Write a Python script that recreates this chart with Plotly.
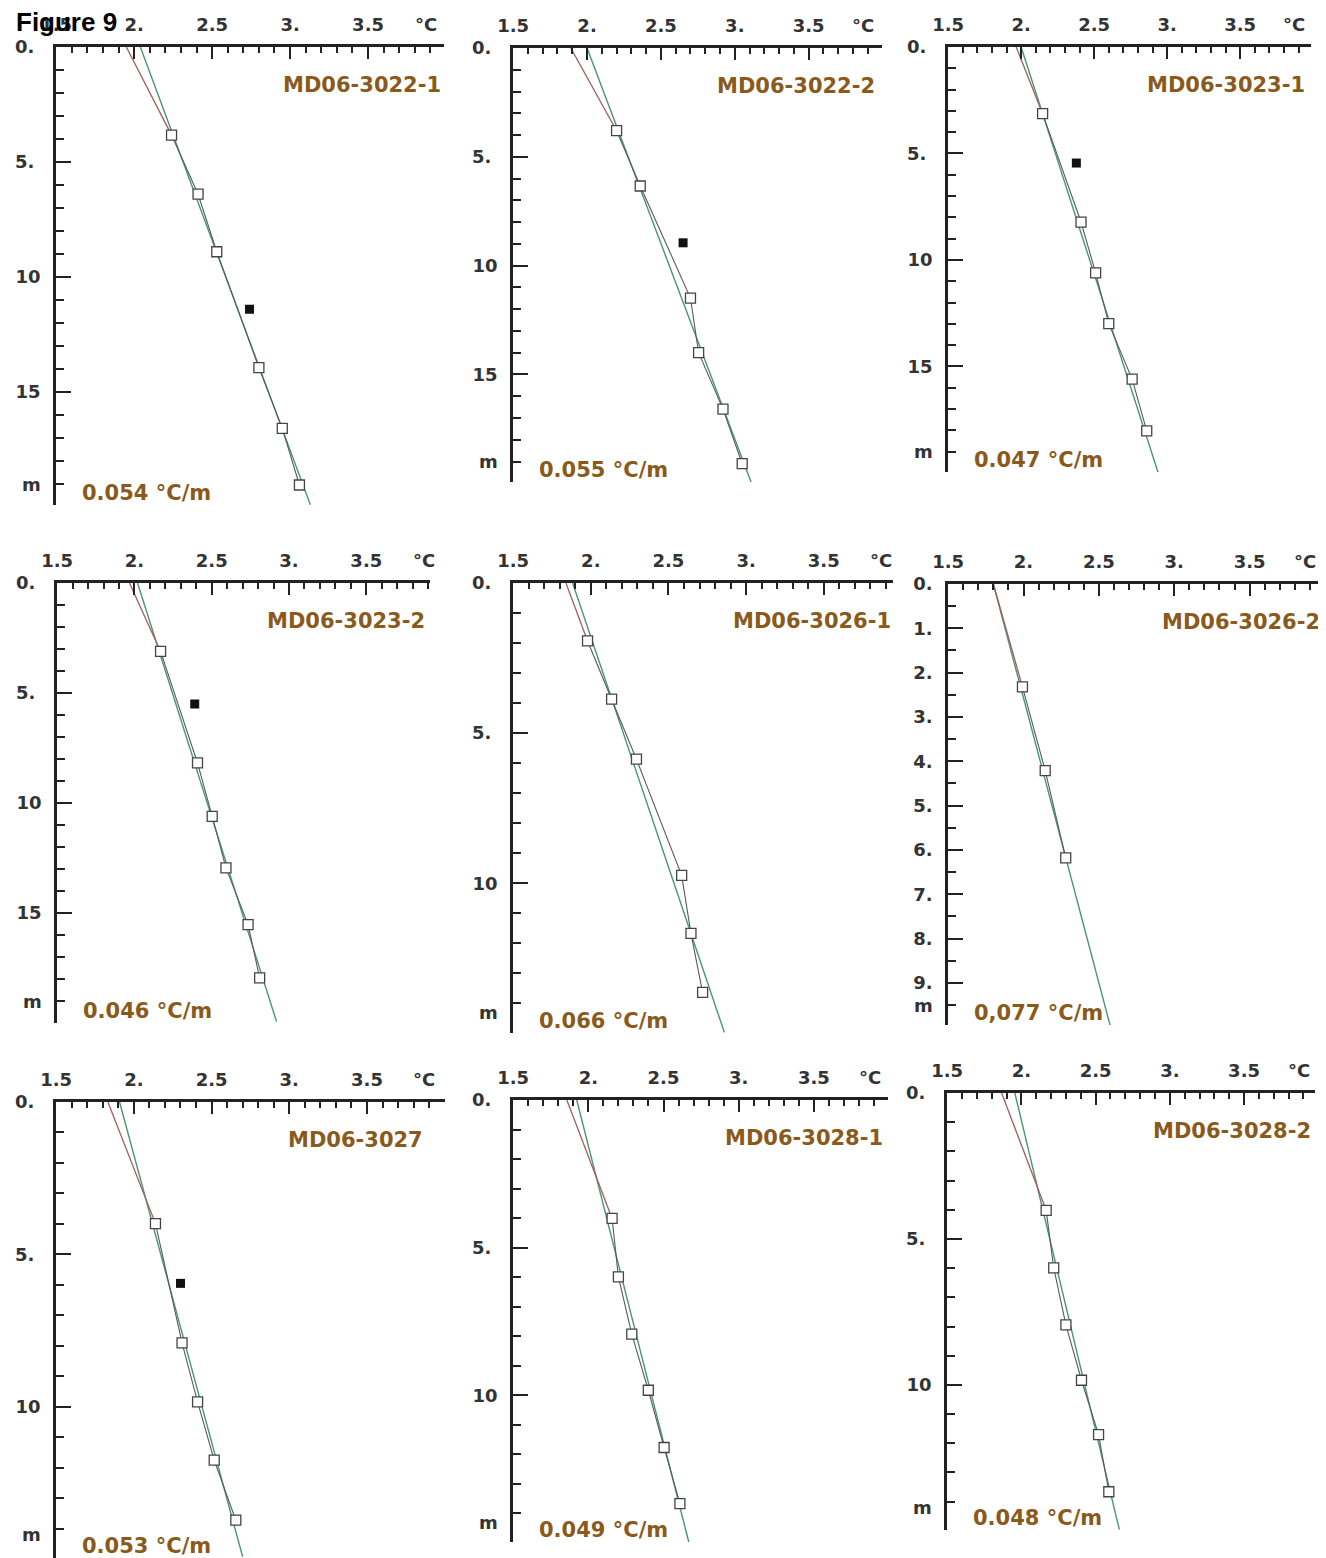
import numpy as np
import plotly.graph_objects as go

# ---------------- data ----------------
names = ["MD06-3022-1", "MD06-3022-2", "MD06-3023-1",
         "MD06-3023-2", "MD06-3026-1", "MD06-3026-2",
         "MD06-3027", "MD06-3028-1", "MD06-3028-2"]
grad_labels = ["0.054 °C/m", "0.055 °C/m", "0.047 °C/m",
               "0.046 °C/m", "0.066 °C/m", "0,077 °C/m",
               "0.053 °C/m", "0.049 °C/m", "0.048 °C/m"]

sensor_T = [
    [2.24, 2.41, 2.53, 2.80, 2.95, 3.06],
    [2.20, 2.36, 2.70, 2.755, 2.92, 3.05],
    [2.147, 2.41, 2.51, 2.60, 2.76, 2.86],
    [2.169, 2.408, 2.503, 2.592, 2.735, 2.81],
    [1.979, 2.134, 2.294, 2.585, 2.645, 2.72],
    [1.993, 2.144, 2.28],
    [2.139, 2.31, 2.41, 2.517, 2.656],
    [2.158, 2.20, 2.289, 2.399, 2.504, 2.609],
    [2.167, 2.218, 2.30, 2.405, 2.52, 2.589],
]
sensor_d = [
    [3.83, 6.40, 8.90, 13.94, 16.58, 19.04],
    [3.80, 6.34, 11.49, 14.0, 16.59, 19.1],
    [3.13, 8.22, 10.61, 12.99, 15.6, 18.03],
    [3.11, 8.18, 10.61, 12.95, 15.53, 17.95],
    [1.93, 3.87, 5.87, 9.74, 11.67, 13.64],
    [2.32, 4.21, 6.18],
    [3.99, 7.90, 9.84, 11.75, 13.72],
    [4.01, 5.99, 7.93, 9.83, 11.77, 13.67],
    [4.02, 5.99, 7.94, 9.84, 11.70, 13.66],
]
outlier_T = [2.74, 2.65, 2.378, 2.39, None, None, 2.30, None, None]
outlier_d = [11.4, 8.95, 5.45, 5.5, None, None, 5.95, None, None]

surface_T = [1.95, 1.89, 1.966, 1.968, 1.84, 1.80, 1.833, 1.857, 1.867]
fit_T_top = [2.04, 2.00, 2.00, 2.02, 1.883, 1.80, 1.908, 1.923, 1.956]
fit_T_bottom = [3.13, 3.116, 2.94, 2.919, 2.86, 2.574, 2.70, 2.668, 2.66]
fit_d_bottom = [19.9, 20.05, 20.03, 19.93, 14.97, 9.95, 14.92, 14.97, 14.96]

x_tickvals = [1.5, 2.0, 2.5, 3.0, 3.5]
x_ticktext = ["1.5", "2.", "2.5", "3.", "3.5"]

# ---------------- layout configuration ----------------
W, H = 1326, 1558
OFF = 8                      # default page body margin
FW, FH = W - OFF, H - OFF    # figure size inside the page
# left, right, top, bottom (page px), x max, y bottom (m)
geo = [
    (56, 444, 47, 505, 3.987, 19.91),
    (513, 882, 48, 482, 3.996, 19.94),
    (948, 1311, 47, 472, 3.985, 19.96),
    (57, 430, 583, 1023, 3.912, 20.0),
    (513, 893, 583, 1033, 3.946, 14.99),
    (948, 1318, 584, 1025, 3.954, 9.95),
    (56, 445, 1102, 1558, 4.002, 14.96),
    (513, 888, 1100, 1542, 3.993, 14.97),
    (947, 1315, 1093, 1530, 3.978, 14.97),
]
XMIN = 1.499
y_major = [[0, 5, 10, 15]] * 4 + [[0, 5, 10], list(range(10)), [0, 5, 10], [0, 5, 10], [0, 5, 10]]
y_minor_step = [1, 1, 1, 1, 1, 0.5, 1, 1, 1]
m_pos = [19, 19, 19, 19, 14.3, 9.5, 14.2, 14.3, 14.2]
name_dx = [-1, -5, -4, -3, 0, 4, -20, -3, -2]

GREEN = "#4a9578"
RED = "#a35d5d"
GREY = "#5a5a5a"
LABEL = "#8a5a1c"
AXC = "#222222"
TICKFONT = dict(family="DejaVu Sans", size=18, color="#333333", weight="bold")


def fx(px):
    return min(max((px - OFF) / FW, 0), 1)


def fy(py):
    return min(max(1 - (py - OFF) / FH, 0), 1)


fig = go.Figure()
annotations = []
layout = {}

for i in range(9):
    k = "" if i == 0 else str(i + 1)
    xa, ya = "x" + k, "y" + k
    L, R, T, B, xmax, ybot = geo[i]

    # fitted gradient line
    fig.add_trace(go.Scatter(x=[fit_T_top[i], fit_T_bottom[i]], y=[0, fit_d_bottom[i]],
                             mode="lines", line=dict(color=GREEN, width=1.4),
                             xaxis=xa, yaxis=ya, showlegend=False, hoverinfo="skip"))
    # surface to first sensor
    fig.add_trace(go.Scatter(x=[surface_T[i], sensor_T[i][0]], y=[0, sensor_d[i][0]],
                             mode="lines", line=dict(color=RED, width=1.3),
                             xaxis=xa, yaxis=ya, showlegend=False, hoverinfo="skip"))
    # sensor profile
    fig.add_trace(go.Scatter(x=sensor_T[i], y=sensor_d[i], mode="lines+markers",
                             line=dict(color=GREY, width=1.1),
                             marker=dict(symbol="square", size=10, color="white",
                                         line=dict(color="#444444", width=1.3)),
                             xaxis=xa, yaxis=ya, showlegend=False))
    if outlier_T[i] is not None:
        fig.add_trace(go.Scatter(x=[outlier_T[i]], y=[outlier_d[i]], mode="markers",
                                 marker=dict(symbol="square", size=9, color="#111111"),
                                 xaxis=xa, yaxis=ya, showlegend=False))

    xminor = [round(v, 2) for v in np.arange(1.6, 4.05, 0.1)]
    xminor = [v for v in xminor if all(abs(v - t) > 1e-6 for t in x_tickvals)]
    layout["xaxis" + k] = dict(
        domain=[fx(L), fx(R)], range=[XMIN, xmax], side="top", anchor=ya,
        showline=True, linecolor=AXC, linewidth=2.5, mirror=False, automargin=False,
        ticks="inside", ticklen=12, tickwidth=2, tickcolor=AXC,
        tickmode="array", tickvals=x_tickvals, ticktext=x_ticktext,
        tickfont=TICKFONT, ticklabelstandoff=6,
        minor=dict(ticks="inside", ticklen=6, tickwidth=1.5, tickcolor=AXC,
                   tickmode="array", tickvals=xminor),
        showgrid=False, zeroline=False, fixedrange=True)

    ymaj = y_major[i]
    ytext = [("%d." % v + "\u00a0") if v < 10 and len(ymaj) < 10 else
             ("%d." % v if v < 10 else "%d" % v) for v in ymaj]
    step = y_minor_step[i]
    yminor = [round(v, 2) for v in np.arange(step, ybot + 0.01, step)]
    yminor = [v for v in yminor if all(abs(v - t) > 1e-6 for t in ymaj)]
    layout["yaxis" + k] = dict(
        domain=[fy(B), fy(T)], range=[ybot, 0], side="left", anchor=xa,
        showline=True, linecolor=AXC, linewidth=2.5, automargin=False,
        ticks="inside", ticklen=15, tickwidth=2, tickcolor=AXC,
        tickmode="array", tickvals=ymaj, ticktext=ytext,
        tickfont=TICKFONT, ticklabelstandoff=9,
        minor=dict(ticks="inside", ticklen=8, tickwidth=1.5, tickcolor=AXC,
                   tickmode="array", tickvals=yminor),
        showgrid=False, zeroline=False, fixedrange=True)

    # unit labels
    annotations.append(dict(text="m", xref=xa + " domain", yref=ya, x=0, y=m_pos[i],
                            xanchor="right", yanchor="middle", xshift=-13,
                            showarrow=False, font=TICKFONT))
    annotations.append(dict(text="°C", xref=xa, yref=ya + " domain", x=3.87, y=1,
                            xanchor="center", yanchor="bottom", yshift=10,
                            showarrow=False, font=TICKFONT))
    # station name
    annotations.append(dict(text=names[i], xref=xa + " domain", yref=ya + " domain",
                            x=1, y=1, xanchor="right", yanchor="middle",
                            xshift=name_dx[i], yshift=-38, showarrow=False,
                            font=dict(family="DejaVu Sans", size=21, color=LABEL, weight="bold")))
    # gradient
    annotations.append(dict(text=grad_labels[i], xref=xa + " domain", yref=ya + " domain",
                            x=0, y=0, xanchor="left", yanchor="middle",
                            xshift=24, yshift=12, showarrow=False,
                            font=dict(family="DejaVu Sans", size=21, color=LABEL, weight="bold")))

annotations.append(dict(text="Figure 9", xref="paper", yref="paper", x=fx(14), y=fy(22),
                        xanchor="left", yanchor="middle", showarrow=False,
                        font=dict(family="Liberation Sans, Arial", size=26, color="black",
                                  weight="bold")))

fig.update_layout(width=FW, height=FH, margin=dict(l=0, r=0, t=0, b=0),
                  paper_bgcolor="white", plot_bgcolor="white",
                  annotations=annotations, **layout)

fig.write_html("out.html")
